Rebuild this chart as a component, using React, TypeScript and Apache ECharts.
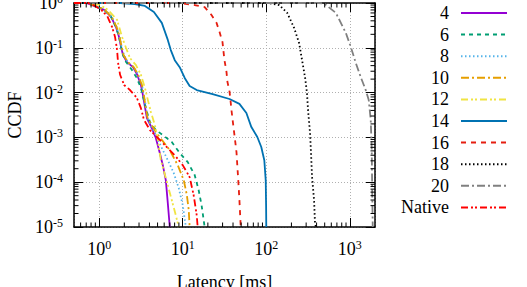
import React, { useEffect, useRef } from 'react';
import * as echarts from 'echarts';

const FONT = 'Liberation Serif';

const seriesNames = ['4', '6', '8', '10', '12', '14', '16', '18', '20', 'Native'];
const seriesColors = ['#9400d3', '#009e73', '#56b4e9', '#e69f00', '#f0e442', '#0072b2', '#e51e10', '#000000', '#808080', '#ff0000'];
const seriesDash: (string | number[])[] = ['solid', [4, 4], [1.5, 2.5], [8, 3, 2, 3], [7, 3, 2, 2, 2, 3], 'solid', [5, 5], [1.5, 2.5], [8, 3, 2, 3], [7, 3, 2, 2, 2, 3]];

const s4 = [[0.5, 1], [0.7, 1], [0.825, 0.9], [1.15, 0.7], [1.39, 0.49], [1.59, 0.29], [1.73, 0.174], [1.83, 0.104], [1.93, 0.069], [2.15, 0.048], [2.54, 0.037], [2.83, 0.026], [3.16, 0.0148], [3.34, 0.0088], [3.53, 0.0048], [3.73, 0.0027], [4.27, 0.0016], [4.77, 0.00097], [5.32, 0.00045], [5.78, 0.00024], [6.28, 0.00011], [6.63, 0.000034], [7.0, 0.00001]];
const s6 = [[0.5, 1], [0.72, 1], [0.84, 0.9], [1.15, 0.7], [1.39, 0.49], [1.59, 0.29], [1.73, 0.174], [1.83, 0.104], [1.93, 0.069], [2.1, 0.048], [2.47, 0.032], [2.83, 0.021], [3.16, 0.0127], [3.43, 0.0068], [3.73, 0.0037], [4.05, 0.0022], [4.77, 0.00146], [5.78, 0.00113], [7.39, 0.00079], [9.21, 0.00045], [11.5, 0.00028], [13.9, 0.000145], [15.5, 0.000067], [16.8, 0.000031], [18.3, 0.00001]];
const s8 = [[0.5, 1], [0.74, 1], [0.86, 0.9], [1.18, 0.7], [1.42, 0.49], [1.62, 0.29], [1.76, 0.174], [1.86, 0.104], [1.98, 0.069], [2.2, 0.048], [2.6, 0.037], [2.9, 0.026], [3.25, 0.0148], [3.43, 0.0088], [3.63, 0.0048], [3.83, 0.0027], [4.05, 0.002], [4.77, 0.00113], [5.62, 0.00058], [6.63, 0.00031], [7.81, 0.00016], [8.96, 0.000074], [10.0, 0.000031], [10.9, 0.00001]];
const s10 = [[0.5, 1], [0.72, 1], [0.85, 0.9], [1.17, 0.7], [1.41, 0.49], [1.62, 0.29], [1.76, 0.174], [1.86, 0.104], [1.96, 0.069], [2.2, 0.048], [2.6, 0.037], [2.9, 0.026], [3.25, 0.0148], [3.43, 0.0088], [3.6, 0.0048], [3.8, 0.0027], [4.05, 0.0022], [4.77, 0.00132], [5.62, 0.00088], [7.0, 0.00052], [8.72, 0.00024], [10.3, 0.00011], [11.2, 0.000052], [11.8, 0.000024], [12.1, 0.00001]];
const s12 = [[0.5, 1], [0.78, 1], [1.03, 0.9], [1.28, 0.7], [1.64, 0.42], [1.88, 0.174], [2.1, 0.099], [2.34, 0.059], [2.76, 0.041], [3.16, 0.025], [3.53, 0.0127], [3.83, 0.0068], [4.16, 0.0037], [4.64, 0.0019], [5.04, 0.00088], [5.47, 0.00031], [6.28, 0.000124], [7.39, 0.00004], [8.25, 0.0000185], [8.96, 0.00001]];
const s14 = [[0.5, 1], [1.78, 1], [2.68, 0.95], [3.53, 0.86], [4.52, 0.63], [5.62, 0.36], [6.63, 0.15], [7.2, 0.089], [8.03, 0.053], [9.2, 0.037], [10.6, 0.021], [12.1, 0.014], [14.7, 0.0114], [22.8, 0.0093], [36.3, 0.0072], [47.7, 0.0056], [57.8, 0.0035], [66.3, 0.0017], [78.1, 0.00102], [87.1, 0.00061], [94.7, 0.00031], [98.5, 0.00011], [99.5, 0.00003], [100, 0.00001]];
const s16 = [[0.5, 1], [9.2, 1], [13.9, 0.9], [18.3, 0.81], [22.1, 0.54], [25.4, 0.36], [27.6, 0.225], [29.9, 0.135], [30.8, 0.081], [31.6, 0.053], [33.4, 0.029], [34.3, 0.0174], [36.3, 0.0106], [37.3, 0.0068], [38.3, 0.0041], [39.4, 0.0026], [41.6, 0.00113], [44, 0.00047], [45.2, 0.00021], [46.4, 0.000097], [47.7, 0.00004], [49, 0.0000144], [49.5, 0.00001]];
const s18 = [[0.5, 1], [87, 1], [108.6, 0.99], [143, 0.9], [178, 0.6], [215, 0.28], [247, 0.128], [268, 0.053], [291, 0.022], [307, 0.0098], [316, 0.0041], [334, 0.00125], [343, 0.00045], [353, 0.000131], [373, 0.00004], [383, 0.000012], [393, 0.00001]];
const s20 = [[0.5, 1], [420, 1], [490, 0.98], [681, 0.6], [896, 0.214], [1028, 0.104], [1178, 0.046], [1352, 0.022], [1550, 0.0114], [1683, 0.0068], [1778, 0.00245], [1828, 0.00052], [1853, 0.00006], [1879, 0.00001]];
const sNative = [[0.5, 1], [0.74, 1], [0.896, 0.86], [1.06, 0.7], [1.25, 0.51], [1.43, 0.29], [1.55, 0.174], [1.64, 0.089], [1.68, 0.048], [1.78, 0.025], [1.99, 0.0148], [2.34, 0.0114], [2.83, 0.0076], [3.16, 0.0045], [3.43, 0.0025], [4.05, 0.00146], [5.04, 0.00097], [6.45, 0.00061], [8.03, 0.0004], [10.0, 0.00024], [12.1, 0.00013], [13.5, 0.000052], [14.7, 0.0000185], [15.1, 0.00001]];
const seriesData = [s4, s6, s8, s10, s12, s14, s16, s18, s20, sNative];

const xMin = 0.5;
const xMax = 2000;
const yMin = 1e-5;
const yMax = 1;
const minorMantissas = [2, 3, 4, 5, 6, 7, 8, 9];
const xMinorDecades = [0.1, 1, 10, 100, 1000];
const yMinorDecades = [1e-5, 1e-4, 1e-3, 1e-2, 1e-1];

const xLabel = 'Latency [ms]';
const yLabel = 'CCDF';

function powLabel(v: number) {
  const e = Math.log10(v);
  const r = Math.round(e);
  if (Math.abs(e - r) > 1e-6) return '';
  return `{b|10}{s|${r}}`;
}

const labelRich = {
  b: { fontSize: 18, fontFamily: FONT, color: '#000', lineHeight: 20 },
  s: { fontSize: 12, fontFamily: FONT, color: '#000', lineHeight: 12, verticalAlign: 'top' },
};

export default function App() {
  const ref = useRef<HTMLDivElement>(null);
  useEffect(() => {
    if (!ref.current) return;
    const chart = echarts.init(ref.current, null, { renderer: 'svg' });

    const minorData: number[][] = [];
    xMinorDecades.forEach((d) => minorMantissas.forEach((m) => {
      const v = m * d;
      if (v > xMin * 1.0001 && v < xMax * 0.9999) minorData.push([v, yMin, 0]);
    }));
    yMinorDecades.forEach((d) => minorMantissas.forEach((m) => {
      const v = m * d;
      if (v > yMin * 1.0001 && v < yMax * 0.9999) minorData.push([xMin, v, 1]);
    }));

    const axisCommon = {
      type: 'log' as const,
      logBase: 10,
      axisLine: { show: true, lineStyle: { color: '#000', width: 1.5 } },
      axisTick: { show: true, inside: true, length: 9, lineStyle: { color: '#000', width: 1 } },
    };

    const lineSeries = seriesNames.map((name, i) => ({
      name,
      type: 'line',
      data: seriesData[i],
      symbol: 'none',
      showSymbol: false,
      clip: true,
      lineStyle: { color: seriesColors[i], width: 1.8, type: seriesDash[i] },
      itemStyle: { color: seriesColors[i] },
      z: 3,
    }));

    chart.setOption({
      animation: false,
      textStyle: { fontFamily: FONT },
      grid: { left: 74, right: 152, top: 3, bottom: 60, containLabel: false, outerBoundsMode: 'none' },
      legend: {
        data: seriesNames,
        orient: 'vertical',
        right: 14,
        top: -1,
        align: 'right',
        itemWidth: 46,
        itemHeight: 12,
        itemGap: 3.6,
        itemStyle: { opacity: 0 },
        textStyle: { fontSize: 18, fontFamily: FONT, color: '#000', padding: [0, 7, 0, 0] },
      },
      xAxis: [
        {
          ...axisCommon,
          min: xMin,
          max: xMax,
          position: 'bottom',
          name: xLabel,
          nameLocation: 'middle',
          nameGap: 46,
          nameTextStyle: { fontSize: 18, fontFamily: FONT, color: '#000' },
          axisLabel: { formatter: powLabel, rich: labelRich, margin: 12, showMinLabel: false, showMaxLabel: false },
          splitLine: { show: true, lineStyle: { color: '#b0b0b0', type: [1, 2], width: 1 } },
        },
        {
          ...axisCommon,
          min: xMin,
          max: xMax,
          position: 'top',
          axisLabel: { show: false },
          splitLine: { show: false },
        },
      ],
      yAxis: [
        {
          ...axisCommon,
          min: yMin,
          max: yMax,
          position: 'left',
          name: yLabel,
          nameLocation: 'middle',
          nameGap: 50,
          nameTextStyle: { fontSize: 18, fontFamily: FONT, color: '#000' },
          axisLabel: { formatter: powLabel, rich: labelRich, margin: 11 },
          splitLine: { show: true, lineStyle: { color: '#b0b0b0', type: [1, 2], width: 1 } },
        },
        {
          ...axisCommon,
          min: yMin,
          max: yMax,
          position: 'right',
          axisLabel: { show: false },
          splitLine: { show: false },
        },
      ],
      series: [
        ...lineSeries,
        {
          type: 'custom',
          name: 'minorTicks',
          silent: true,
          clip: false,
          z: 5,
          data: minorData,
          renderItem: (params: any, api: any) => {
            const kind = api.value(2);
            const style = { stroke: '#000', lineWidth: 1 };
            if (kind === 0) {
              const v = api.value(0);
              const pb = api.coord([v, yMin]);
              const pt = api.coord([v, yMax]);
              return {
                type: 'group',
                children: [
                  { type: 'line', shape: { x1: pb[0], y1: pb[1], x2: pb[0], y2: pb[1] - 4.5 }, style },
                  { type: 'line', shape: { x1: pt[0], y1: pt[1], x2: pt[0], y2: pt[1] + 4.5 }, style },
                ],
              };
            }
            const v = api.value(1);
            const pl = api.coord([xMin, v]);
            const pr = api.coord([xMax, v]);
            return {
              type: 'group',
              children: [
                { type: 'line', shape: { x1: pl[0], y1: pl[1], x2: pl[0] + 4.5, y2: pl[1] }, style },
                { type: 'line', shape: { x1: pr[0], y1: pr[1], x2: pr[0] - 4.5, y2: pr[1] }, style },
              ],
            };
          },
        },
      ],
    });
    return () => chart.dispose();
  }, []);
  return <div ref={ref} style={{ position: 'absolute', left: 0, top: 0, width: 527, height: 287 }} />;
}
